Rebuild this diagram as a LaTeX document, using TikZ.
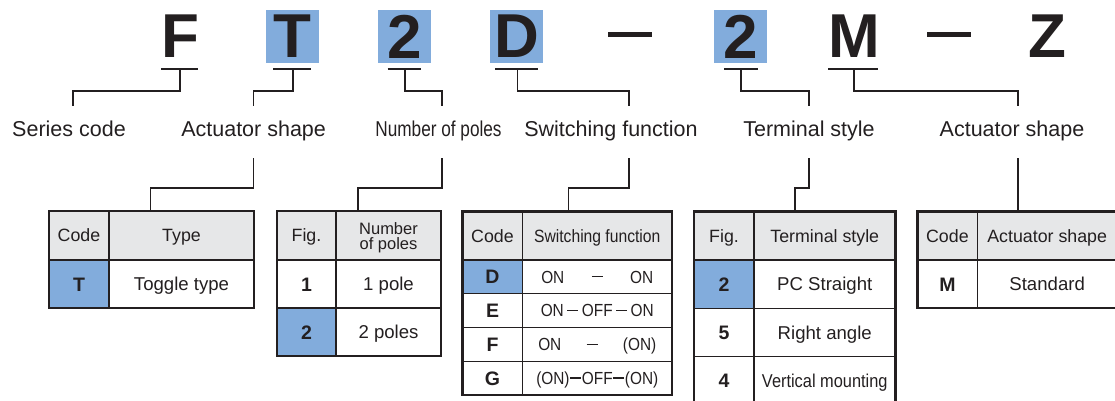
\documentclass[tikz,border=0pt]{standalone}
\usepackage{fontspec}
\setmainfont{Liberation Sans}
\newfontfamily\narrowfont[FakeStretch=0.88]{Liberation Sans}
\newfontfamily\narrowerfont[FakeStretch=0.8]{Liberation Sans}

\definecolor{ink}{HTML}{231F20}
\definecolor{hlblue}{RGB}{130,172,220}
\definecolor{hdgray}{HTML}{E6E7E8}

% dash between switch positions
\newcommand\swdash{\rule[5.8pt]{11pt}{1.3pt}}

\tikzset{
  codeletter/.style={inner sep=0, text=ink, font=\bfseries\fontsize{62}{62}\selectfont},
  codebox/.style={codeletter, fill=hlblue, minimum width=53, minimum height=53},
  dashbar/.style={inner sep=0, fill=ink, minimum width=44, minimum height=5},
  lbl/.style={anchor=base, inner sep=0, text=ink, font=\fontsize{21.5}{24}\selectfont},
  link/.style={draw=ink, line width=1.4},
  cell/.style={draw=ink, line width=1.2},
  tabframe/.style={draw=ink, line width=2.2},
  hd/.style={inner sep=0, text=ink, text height=12.7, text depth=0, font=\fontsize{17.8}{20}\selectfont},
  bd/.style={hd, text height=13.3, font=\fontsize{18.6}{20}\selectfont},
  keytxt/.style={hd, text height=14, font=\bfseries\fontsize{19.5}{20}\selectfont},
  swtxt/.style={hd, text height=12.5, font=\narrowfont\fontsize{17.5}{20}\selectfont},
}

\begin{document}
\begin{tikzpicture}[x=1pt,y=-1pt]
  \useasboundingbox (0,0) rectangle (1115,401);

  % part number
  \node[codeletter] (cF) at (180,36.5) {F};
  \node[codebox] (cT) at (292.5,36.5) {T};
  \node[codebox] (cP) at (404.5,36.5) {2};
  \node[codebox] (cD) at (516.5,36.5) {D};
  \node[dashbar] (dA) at (630,35) {};
  \node[codebox] (cS) at (740.5,36.5) {2};
  \node[codeletter] (cM) at (854.5,36.5) {M};
  \node[dashbar] (dB) at (949,35) {};
  \node[codeletter] (cZ) at (1047.5,36.5) {Z};

  % labels
  \node[lbl] (lSer) at (69,136) {Series code};
  \node[lbl] (lAct) at (253.6,136) {Actuator shape};
  \node[lbl] (lPol) at (438.5,136) {\narrowerfont Number of poles};
  \node[lbl] (lSw) at (611,136) {Switching function};
  \node[lbl] (lTer) at (809,136) {Terminal style};
  \node[lbl] (lAct2) at (1012,136) {Actuator shape};

  % underlines and leaders
  \coordinate (uF) at (180,69);   \coordinate (aSer) at (73,106);
  \coordinate (uT) at (293,69);   \coordinate (aAct) at (253.6,106);
  \coordinate (uP) at (405,69);   \coordinate (aPol) at (442,106);
  \coordinate (uD) at (517.5,69); \coordinate (aSw) at (629,106);
  \coordinate (uS) at (741,69);   \coordinate (aTer) at (809,106);
  \coordinate (uM) at (854,69);   \coordinate (aAct2) at (1018,106);
  \draw[link] (161,69) -- (197.5,69);
  \draw[link] (273,69) -- (311,69);
  \draw[link] (387.5,69) -- (421,69);
  \draw[link] (495,69) -- (537.5,69);
  \draw[link] (724,69) -- (758,69);
  \draw[link] (828,69) -- (878,69);
  \draw[link] (uF) -- ++(0,22) -| (aSer);
  \draw[link] (uT) -- ++(0,22) -| (aAct);
  \draw[link] (uP) -- ++(0,22) -| (aPol);
  \draw[link] (uD) -- ++(0,22) -| (aSw);
  \draw[link] (uS) -- ++(0,22) -| (aTer);
  \draw[link] (uM) -- ++(0,22) -| (aAct2);

  % leaders down to the tables
  \coordinate (bAct) at (253.6,158); \coordinate (t1in) at (150.7,211);
  \coordinate (bPol) at (442,158);   \coordinate (t2in) at (358,211);
  \coordinate (bSw) at (629,158);    \coordinate (t3in) at (568.5,211);
  \coordinate (bTer) at (809,158);   \coordinate (t4in) at (795,211);
  \coordinate (bAct2) at (1018,158); \coordinate (t5in) at (1018,211);
  \draw[link] (bAct) -- ++(0,30) -| (t1in);
  \draw[link] (bPol) -- ++(0,30) -| (t2in);
  \draw[link] (bSw) -- ++(0,30) -| (t3in);
  \draw[link] (bTer) -- ++(0,30) -| (t4in);
  \draw[link] (bAct2) -- (t5in);

  % table 1
  \filldraw[cell,fill=hdgray] (49,211) rectangle (109,260) node[midway,hd] (t1a) {Code};
  \filldraw[cell,fill=hdgray] (109,211) rectangle (254,260) node[midway,hd] (t1b) {Type};
  \filldraw[cell,fill=hlblue] (49,260) rectangle (109,308) node[midway,keytxt] (t1k) {T};
  \draw[cell] (109,260) rectangle (254,308) node[midway,bd] (t1v) {Toggle type};
  \draw[tabframe] (49,211) rectangle (254,308);

  % table 2
  \filldraw[cell,fill=hdgray] (277,211) rectangle (336,260) node[midway,hd] (t2a) {Fig.};
  \filldraw[cell,fill=hdgray] (336,211) rectangle (441,260) node[midway,inner sep=0,text=ink,align=center,yshift=-2pt,font=\fontsize{16.5}{14.7}\selectfont] (t2b) {Number\\of poles};
  \draw[cell] (277,260) rectangle (336,308) node[midway,keytxt] (t2k1) {1};
  \draw[cell] (336,260) rectangle (441,308) node[midway,bd] (t2v1) {1 pole};
  \filldraw[cell,fill=hlblue] (277,308) rectangle (336,356) node[midway,keytxt] (t2k2) {2};
  \draw[cell] (336,308) rectangle (441,356) node[midway,bd] (t2v2) {2 poles};
  \draw[tabframe] (277,211) rectangle (441,356);

  % table 3
  \filldraw[cell,fill=hdgray] (462.5,211.5) rectangle (522.5,260) node[midway,hd] (t3a) {Code};
  \filldraw[cell,fill=hdgray] (522.5,211.5) rectangle (672,260) node[midway,swtxt,font=\narrowfont\fontsize{17.8}{20}\selectfont] (t3b) {Switching function};
  \filldraw[cell,fill=hlblue] (462.5,260) rectangle (522.5,293.5) node[midway,keytxt] (t3k1) {D};
  \draw[cell] (522.5,260) rectangle (672,293.5) node[midway,swtxt] (t3v1) {\hbox to 112pt{ON\hfill\swdash\hfill ON}};
  \draw[cell] (462.5,293.5) rectangle (522.5,327.5) node[midway,keytxt] (t3k2) {E};
  \draw[cell] (522.5,293.5) rectangle (672,327.5) node[midway,swtxt] (t3v2) {\hbox to 113pt{ON\hfill\swdash\hfill OFF\hfill\swdash\hfill ON}};
  \draw[cell] (462.5,327.5) rectangle (522.5,361.5) node[midway,keytxt] (t3k3) {F};
  \draw[cell] (522.5,327.5) rectangle (672,361.5) node[midway,swtxt] (t3v3) {\hbox to 118pt{ON\hfill\swdash\hfill(ON)}};
  \draw[cell] (462.5,361.5) rectangle (522.5,395) node[midway,keytxt] (t3k4) {G};
  \draw[cell] (522.5,361.5) rectangle (672,395) node[midway,swtxt] (t3v4) {\hbox to 122pt{(ON)\hfill\swdash\hfill OFF\hfill\swdash\hfill(ON)}};
  \draw[tabframe] (462.5,211.5) rectangle (672,395);

  % table 4
  \filldraw[cell,fill=hdgray] (694,211.5) rectangle (754,260) node[midway,hd] (t4a) {Fig.};
  \filldraw[cell,fill=hdgray] (754,211.5) rectangle (895.5,260) node[midway,hd] (t4b) {Terminal style};
  \filldraw[cell,fill=hlblue] (694,260) rectangle (754,308.3) node[midway,keytxt] (t4k1) {2};
  \draw[cell] (754,260) rectangle (895.5,308.3) node[midway,bd] (t4v1) {PC Straight};
  \draw[cell] (694,308.3) rectangle (754,356.7) node[midway,keytxt] (t4k2) {5};
  \draw[cell] (754,308.3) rectangle (895.5,356.7) node[midway,bd] (t4v2) {Right angle};
  \draw[cell] (694,356.7) rectangle (754,405) node[midway,keytxt] (t4k3) {4};
  \draw[cell] (754,356.7) rectangle (895.5,405) node[midway,bd,font=\narrowfont\fontsize{18.6}{20}\selectfont] (t4v3) {Vertical mounting};
  \draw[tabframe] (694,211.5) rectangle (895.5,405);

  % table 5
  \filldraw[cell,fill=hdgray] (917.5,211.5) rectangle (977.3,260) node[midway,hd] (t5a) {Code};
  \filldraw[cell,fill=hdgray] (977.3,211.5) rectangle (1117,260) node[midway,hd] (t5b) {Actuator shape};
  \draw[cell] (917.5,260) rectangle (977.3,308) node[midway,keytxt] (t5k) {M};
  \draw[cell] (977.3,260) rectangle (1117,308) node[midway,bd] (t5v) {Standard};
  \draw[tabframe] (917.5,211.5) rectangle (1117,308);
\end{tikzpicture}
\end{document}
